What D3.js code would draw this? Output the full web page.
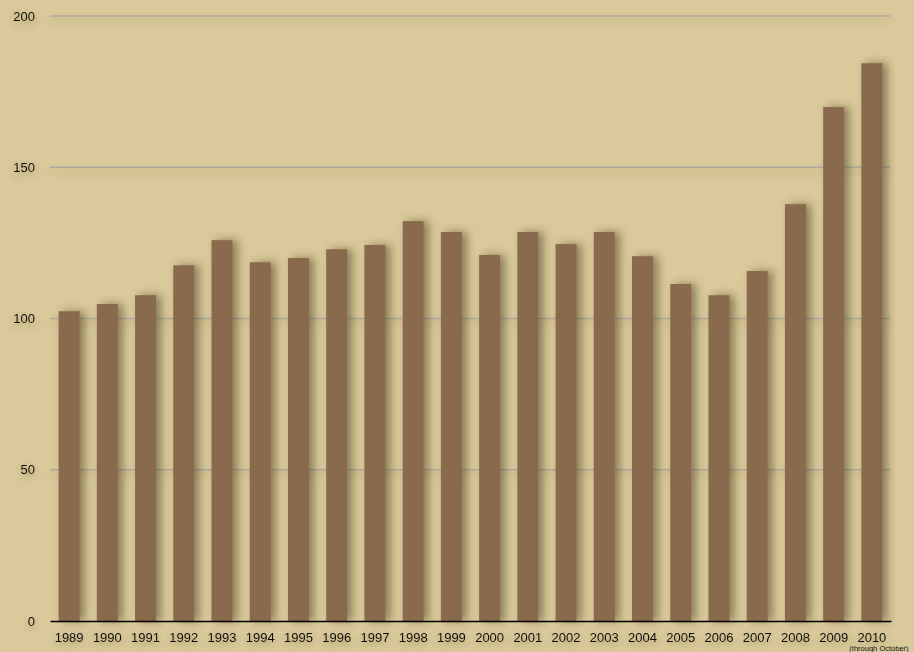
<!DOCTYPE html>
<html lang="en">
<head>
<meta charset="utf-8">
<title>Bars 1989-2010</title>
<script src="https://cdn.jsdelivr.net/npm/d3@7"></script>
<style>
  body { margin: 0; background: #d9c99b; }
  text { font-family: "Liberation Sans", Arial, sans-serif; fill: #111; }
</style>
</head>
<body>
<div id="chart"></div>
<script>
// values
var years = ["1989", "1990", "1991", "1992", "1993", "1994", "1995", "1996", "1997", "1998", "1999",
             "2000", "2001", "2002", "2003", "2004", "2005", "2006", "2007", "2008", "2009", "2010"];
var counts = [102.4, 104.8, 107.7, 117.6, 125.9, 118.6, 120.0, 122.9, 124.3, 132.2, 128.6,
              121.0, 128.6, 124.6, 128.6, 120.6, 111.4, 107.7, 115.7, 137.8, 169.9, 184.4];
var yTicks = [0, 50, 100, 150, 200];
var lastNote = "(through October)";

var W = 914, H = 652;
var plotLeft = 50, plotRight = 891, plotTop = 16, plotBottom = 621;

var svg = d3.select("#chart").append("svg")
  .attr("width", W)
  .attr("height", H);

var defs = svg.append("defs");
var barShadow = defs.append("filter").attr("id", "barShadow")
  .attr("x", "-50%").attr("y", "-10%").attr("width", "250%").attr("height", "120%");
barShadow.append("feDropShadow")
  .attr("dx", 5).attr("dy", 0).attr("stdDeviation", 4)
  .attr("flood-color", "#3a2e14").attr("flood-opacity", 0.5);

var gridShadow = defs.append("filter").attr("id", "gridShadow")
  .attr("filterUnits", "userSpaceOnUse")
  .attr("x", 0).attr("y", 0).attr("width", W).attr("height", H);
gridShadow.append("feDropShadow")
  .attr("dx", 0).attr("dy", 4).attr("stdDeviation", 3)
  .attr("flood-color", "#6b5a2a").attr("flood-opacity", 0.3);

var textShadow = defs.append("filter").attr("id", "textShadow")
  .attr("x", "-50%").attr("y", "-50%").attr("width", "200%").attr("height", "200%");
textShadow.append("feDropShadow")
  .attr("dx", 0).attr("dy", 3).attr("stdDeviation", 3.5)
  .attr("flood-color", "#5a4a20").attr("flood-opacity", 0.45);

svg.append("rect")
  .attr("width", W).attr("height", H)
  .attr("fill", "#d9c99b");

var x = d3.scaleBand()
  .domain(years)
  .range([plotLeft, plotRight])
  .paddingInner(0.45)
  .paddingOuter(0.225);

var y = d3.scaleLinear()
  .domain([0, 200])
  .range([plotBottom, plotTop]);

// gridlines
svg.append("g")
  .attr("filter", "url(#gridShadow)")
  .selectAll("line")
  .data(yTicks.filter(function(d) { return d > 0; }))
  .join("line")
  .attr("x1", plotLeft).attr("x2", plotRight - 1)
  .attr("y1", function(d) { return y(d); })
  .attr("y2", function(d) { return y(d); })
  .attr("stroke", "#aeaa9c")
  .attr("stroke-width", 1.5);

// y labels
var yAxis = d3.axisLeft(y).tickValues(yTicks).tickSize(0).tickPadding(0);
var gy = svg.append("g")
  .attr("transform", "translate(35,0)")
  .call(yAxis);
gy.select(".domain").remove();
gy.selectAll("text")
  .attr("font-size", 13)
  .attr("font-family", "Liberation Sans, Arial, sans-serif")
  .attr("fill", "#111")
  .attr("filter", "url(#textShadow)");

// bars
svg.append("g")
  .selectAll("rect")
  .data(counts)
  .join("rect")
  .attr("x", function(d, i) { return x(years[i]); })
  .attr("width", x.bandwidth())
  .attr("y", function(d) { return y(d); })
  .attr("height", function(d) { return y(0) - y(d); })
  .attr("fill", "#8a6b4d")
  .attr("filter", "url(#barShadow)");

// baseline + x labels
var xAxis = d3.axisBottom(x).tickSize(0).tickPadding(12);
var gx = svg.append("g")
  .attr("transform", "translate(0," + plotBottom + ")")
  .call(xAxis);
gx.select(".domain")
  .attr("stroke", "#000")
  .attr("stroke-width", 1.5);
gx.selectAll("text")
  .attr("font-size", 13)
  .attr("font-family", "Liberation Sans, Arial, sans-serif")
  .attr("fill", "#111")
  .attr("filter", "url(#textShadow)");

svg.append("text")
  .attr("x", x("2010") - 12)
  .attr("y", 651)
  .attr("font-size", 7.5)
  .attr("fill", "#111")
  .text(lastNote);
</script>
</body>
</html>
